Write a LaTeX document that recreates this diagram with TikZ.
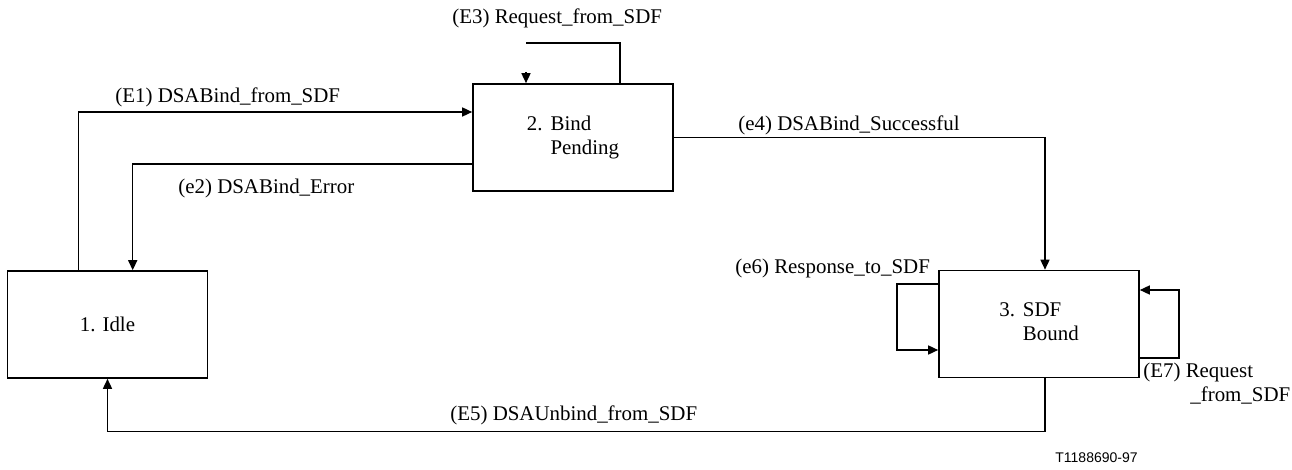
\documentclass[tikz,border=0pt]{standalone}
\usepackage{fontspec}
\setmainfont{Liberation Serif}
\newfontfamily\tagfont{Liberation Sans}
\usetikzlibrary{arrows.meta}

\tikzset{
  state/.style={draw, line width=0.8pt, minimum width=100pt, minimum height=53.5pt, inner sep=0pt},
  arr/.style={line width=0.75pt, -{Triangle[length=5pt,width=4.5pt]}},
  plain/.style={line width=0.75pt},
  lbl/.style={anchor=west, inner sep=0pt}
}

\begin{document}
\begin{tikzpicture}[x=0.5pt, y=0.5pt, font=\fontsize{10.45}{12}\selectfont]

        % Frame
        \useasboundingbox (0,0) rectangle (1292,-470);

        % States
        \node[state] (idle) at (107.5,-324.5) {1. Idle};
        \node[state] (pend) at (573,-137.5)
            {\begin{tabular}{@{}l@{\hspace{4pt}}l@{}}2.&Bind\\&Pending\end{tabular}};
        \node[state] (bound) at (1039,-324)
            {\begin{tabular}{@{}l@{\hspace{4pt}}l@{}}3.&SDF\\&Bound\end{tabular}};

        % (E1) Idle to Bind Pending
        \draw[arr] ([xshift=36pt]idle.north west) |- ([yshift=12.75pt]pend.west);
        \node[lbl] (e1) at (115,-97) {(E1) DSABind\_from\_SDF};

        % (e2) back to Idle
        \draw[arr] ([yshift=-13.25pt]pend.west) -| ([xshift=63pt]idle.north west);
        \node[lbl] (e2) at (178,-188) {(e2) DSABind\_Error};

        % (E3) loop on Bind Pending (drawn with a gap, as printed)
        \coordinate (e3top) at ([xshift=-23.5pt,yshift=20pt]pend.north);
        \draw[plain] ([xshift=23.5pt]pend.north) |- (e3top);
        \draw[arr] ([xshift=-23.5pt,yshift=5.5pt]pend.north) -- ([xshift=-23.5pt]pend.north);
        \node[lbl] (e3) at (452,-18) {(E3) Request\_from\_SDF};

        % (e4) Bind Pending to SDF Bound
        \draw[arr] (pend.east) -| ([xshift=3pt]bound.north);
        \node[lbl] (e4) at (738,-125) {(e4) DSABind\_Successful};

        % (E5) SDF Bound back to Idle
        \draw[arr] ([xshift=3pt]bound.south) -- ++(0pt,-26.5pt) -| (idle.south);
        \node[lbl] (e5) at (450,-415) {(E5) DSAUnbind\_from\_SDF};

        % (e6) loop on the left of SDF Bound
        \draw[arr] ([yshift=20pt]bound.west) -- ++(-20.5pt,0pt)
            |- ([yshift=-13pt]bound.west);
        \node[lbl] (e6) at (735,-268) {(e6) Response\_to\_SDF};

        % (E7) loop on the right of SDF Bound
        \draw[arr] ([yshift=-17pt]bound.east) -- ++(19.5pt,0pt)
            |- ([yshift=17pt]bound.east);
        \node[lbl, anchor=north west, align=left] (e7) at (1143,-363)
            {(E7) Request\\\hspace*{23.5pt}\_from\_SDF};

        % Figure number
        \node[lbl] (tag) at (1055,-458) {\tagfont\fontsize{7}{8}\selectfont T1188690-97};

    \end{tikzpicture}
\end{document}
